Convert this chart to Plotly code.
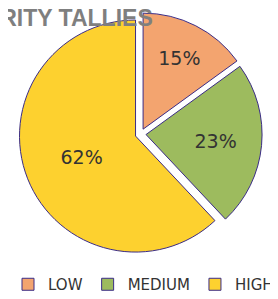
import plotly.graph_objects as go

categories = ["LOW", "MEDIUM", "HIGH"]
values = [15, 23, 62]
colors = ["#F3A46F", "#9DBB5E", "#FDD12F"]
pulls = [0.047, 0.047, 0.047]
title_text = "PRIORITY TALLIES"

fig = go.Figure(go.Pie(
    labels=categories,
    values=values,
    sort=False,
    direction="clockwise",
    rotation=0,
    pull=pulls,
    marker=dict(colors=colors, line=dict(color="#3B2C86", width=1)),
    textinfo="percent",
    texttemplate="%{percent:.0%}",
    textposition="inside",
    insidetextorientation="horizontal",
    textfont=dict(family="DejaVu Sans", size=19, color="#333333"),
    domain=dict(x=[0.040, 0.914], y=[0.172, 0.985]),
    showlegend=True,
))

fig.add_annotation(
    text="<b>" + title_text + "</b>", xref="paper", yref="paper", x=0.53, y=1.0,
    xanchor="right", yanchor="top", showarrow=False, yshift=5,
    font=dict(family="Liberation Sans", size=23, color="#7F7F7F"),
)

fig.update_layout(
    width=278, height=299,
    margin=dict(l=0, r=0, t=0, b=0),
    paper_bgcolor="white",
    plot_bgcolor="white",
    legend=dict(orientation="h", x=0.47, xanchor="center", y=0.02, yanchor="bottom",
                font=dict(family="DejaVu Sans", size=15, color="#333333"),
                itemwidth=30),
)

fig.write_html("out.html")
